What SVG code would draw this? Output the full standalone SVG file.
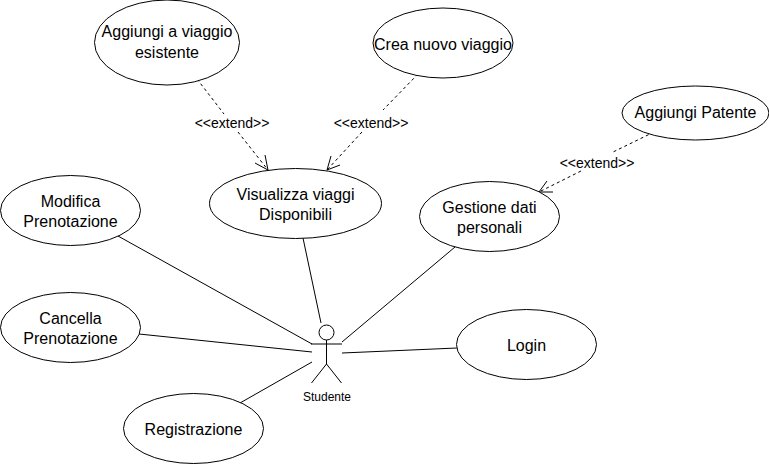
<svg xmlns="http://www.w3.org/2000/svg" width="769" height="464" viewBox="0 0 769 464">
<style>
text{font-family:"Liberation Sans",Arial,sans-serif;fill:#000;text-anchor:middle}
.n text{font-size:16px}
.n ellipse{fill:#fff;stroke:#000;stroke-width:1}
.c{stroke:#000;stroke-width:1;fill:none}
.d{stroke-dasharray:3 3}
.l{font-size:14px}
</style>
<rect width="769" height="464" fill="#fff"/>
<g id="connectors">
<path class="c d" d="M197 79L224 114M238 132L268 170"/>
<path class="c" d="M255 163L268 170L265 155"/>
<path class="c d" d="M418 74L383 110M362 132L327 170"/>
<path class="c" d="M331 156L327 170L340 165"/>
<path class="c d" d="M654 132L611 153M581 171L539 192"/>
<path class="c" d="M547 181L539 192L553 192"/>
<line class="c" x1="303" y1="238" x2="321" y2="323"/>
<line class="c" x1="118" y1="236" x2="312" y2="344"/>
<line class="c" x1="139" y1="334" x2="312" y2="352"/>
<line class="c" x1="240" y1="403" x2="312" y2="362"/>
<line class="c" x1="455" y1="247" x2="342" y2="342"/>
<line class="c" x1="457" y1="348" x2="342" y2="353"/>
<text class="l" x="232" y="128">&lt;&lt;extend&gt;&gt;</text>
<text class="l" x="371" y="128">&lt;&lt;extend&gt;&gt;</text>
<text class="l" x="597" y="168">&lt;&lt;extend&gt;&gt;</text>
</g>
<g id="aggiungi-viaggio" class="n"><ellipse cx="167" cy="42.500" rx="72.500" ry="42.500"/><text x="167" y="37">Aggiungi a viaggio</text><text x="167" y="58">esistente</text></g>
<g id="crea-viaggio" class="n"><ellipse cx="443" cy="43" rx="70" ry="35"/><text x="443" y="50">Crea nuovo viaggio</text></g>
<g id="aggiungi-patente" class="n"><ellipse cx="695.500" cy="113" rx="73.500" ry="27"/><text x="695.500" y="118">Aggiungi Patente</text></g>
<g id="visualizza" class="n"><ellipse cx="295.500" cy="203.500" rx="86" ry="35"/><text x="295.500" y="200">Visualizza viaggi</text><text x="295.500" y="220">Disponibili</text></g>
<g id="gestione" class="n"><ellipse cx="489.500" cy="216.500" rx="70" ry="35"/><text x="489.500" y="213">Gestione dati</text><text x="489.500" y="233">personali</text></g>
<g id="modifica" class="n"><ellipse cx="70.500" cy="210.500" rx="70" ry="35"/><text x="70.500" y="207">Modifica</text><text x="70.500" y="227">Prenotazione</text></g>
<g id="cancella" class="n"><ellipse cx="70.500" cy="327.500" rx="70" ry="35"/><text x="70.500" y="324">Cancella</text><text x="70.500" y="344">Prenotazione</text></g>
<g id="registrazione" class="n"><ellipse cx="193.500" cy="428.500" rx="70" ry="35"/><text x="193.500" y="435">Registrazione</text></g>
<g id="login" class="n"><ellipse cx="526.500" cy="344.500" rx="70" ry="35"/><text x="526.500" y="351">Login</text></g>
<g id="studente">
<circle cx="326.500" cy="332.500" r="7.500" fill="#fff" stroke="#000" stroke-width="1"/>
<path class="c" d="M326.500 340V364M311 344H342M326.500 364L311.500 383M326.500 364L341.500 383"/>
<text x="327" y="401" font-size="12px">Studente</text>
</g>
</svg>
